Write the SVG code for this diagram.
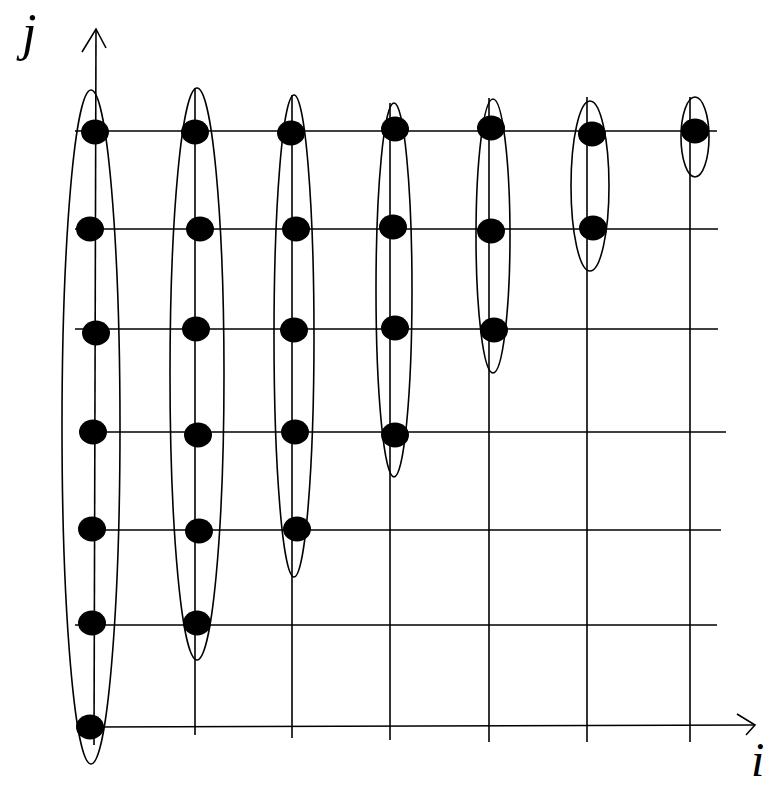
<svg xmlns="http://www.w3.org/2000/svg" width="774" height="788" viewBox="0 0 774 788">
<style>
.ln{stroke:#000;stroke-width:1.6;fill:none}
.ring{stroke:#000;stroke-width:1.6;fill:none}
.dot{fill:#000}
.lab{font-family:"Liberation Serif","DejaVu Serif",serif;font-style:italic;fill:#000}
</style>
<rect width="774" height="788" fill="#fff"/>
<g id="connectors">
<line class="ln" x1="75" y1="131" x2="717" y2="131"/>
<line class="ln" x1="75" y1="229" x2="718" y2="229"/>
<line class="ln" x1="75" y1="329" x2="718" y2="329"/>
<line class="ln" x1="80" y1="432" x2="726" y2="432"/>
<line class="ln" x1="80" y1="530" x2="721" y2="530"/>
<line class="ln" x1="75" y1="625" x2="717" y2="625"/>
<line class="ln" x1="195" y1="88" x2="195" y2="735"/>
<line class="ln" x1="292" y1="95" x2="292" y2="738"/>
<line class="ln" x1="390" y1="103" x2="390" y2="740"/>
<line class="ln" x1="489" y1="98" x2="489" y2="742"/>
<line class="ln" x1="587" y1="97" x2="587" y2="742"/>
<line class="ln" x1="690" y1="97" x2="690" y2="742"/>
</g>
<g id="axis-j">
<line class="ln" x1="94" y1="745" x2="96" y2="29"/>
<polyline class="ln" points="82,52 96,29 106,48"/>
<text class="lab" x="22" y="50" font-size="52">j</text>
</g>
<g id="axis-i">
<line class="ln" x1="90" y1="727" x2="755" y2="725"/>
<polyline class="ln" points="737,714 755,725 746,735"/>
<text class="lab" x="751" y="776" font-size="48">i</text>
</g>
<g id="column-1">
<ellipse class="ring" cx="91" cy="427" rx="29" ry="337"/>
<ellipse class="dot" cx="95" cy="132" rx="14" ry="12.5"/>
<ellipse class="dot" cx="90" cy="229" rx="14" ry="12.5"/>
<ellipse class="dot" cx="96" cy="333" rx="14" ry="12.5"/>
<ellipse class="dot" cx="93" cy="432" rx="14" ry="12.5"/>
<ellipse class="dot" cx="92" cy="529" rx="14" ry="12.5"/>
<ellipse class="dot" cx="92" cy="623" rx="14" ry="12.5"/>
<ellipse class="dot" cx="90" cy="727" rx="14" ry="12.5"/>
</g>
<g id="column-2">
<ellipse class="ring" cx="197" cy="374" rx="27" ry="286"/>
<ellipse class="dot" cx="195" cy="132" rx="14" ry="12.5"/>
<ellipse class="dot" cx="200" cy="229" rx="14" ry="12.5"/>
<ellipse class="dot" cx="196" cy="329" rx="14" ry="12.5"/>
<ellipse class="dot" cx="198" cy="435" rx="14" ry="12.5"/>
<ellipse class="dot" cx="199" cy="531" rx="14" ry="12.5"/>
<ellipse class="dot" cx="197" cy="623" rx="14" ry="12.5"/>
</g>
<g id="column-3">
<ellipse class="ring" cx="294" cy="336" rx="20" ry="241"/>
<ellipse class="dot" cx="291" cy="133" rx="14" ry="12.5"/>
<ellipse class="dot" cx="296" cy="229" rx="14" ry="12.5"/>
<ellipse class="dot" cx="294" cy="330" rx="14" ry="12.5"/>
<ellipse class="dot" cx="295" cy="432" rx="14" ry="12.5"/>
<ellipse class="dot" cx="297" cy="529" rx="14" ry="12.5"/>
</g>
<g id="column-4">
<ellipse class="ring" cx="394" cy="290" rx="18" ry="187"/>
<ellipse class="dot" cx="395" cy="129" rx="14" ry="12.5"/>
<ellipse class="dot" cx="393" cy="227" rx="14" ry="12.5"/>
<ellipse class="dot" cx="395" cy="328" rx="14" ry="12.5"/>
<ellipse class="dot" cx="395" cy="435" rx="14" ry="12.5"/>
</g>
<g id="column-5">
<ellipse class="ring" cx="493" cy="236" rx="17" ry="137"/>
<ellipse class="dot" cx="491" cy="128" rx="14" ry="12.5"/>
<ellipse class="dot" cx="491" cy="231" rx="14" ry="12.5"/>
<ellipse class="dot" cx="494" cy="330" rx="14" ry="12.5"/>
</g>
<g id="column-6">
<ellipse class="ring" cx="590" cy="186" rx="19" ry="85"/>
<ellipse class="dot" cx="592" cy="134" rx="14" ry="12.5"/>
<ellipse class="dot" cx="593" cy="228" rx="14" ry="12.5"/>
</g>
<g id="column-7">
<ellipse class="ring" cx="695" cy="137" rx="14" ry="40"/>
<ellipse class="dot" cx="695" cy="131" rx="14" ry="12.5"/>
</g>
</svg>
